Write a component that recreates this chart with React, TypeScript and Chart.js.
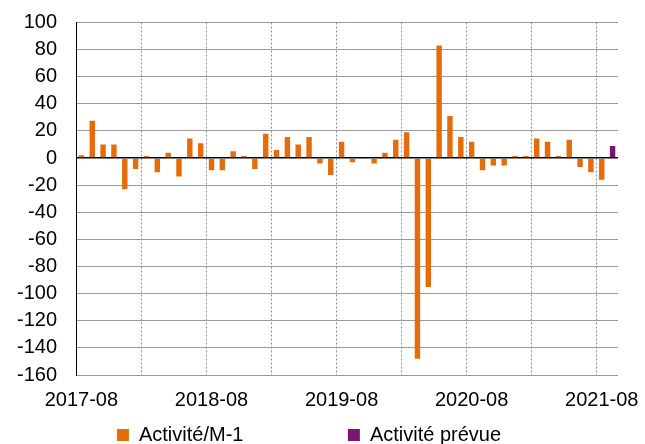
import React, { useEffect, useRef } from "react";
import { Chart, registerables } from "chart.js";

Chart.register(...registerables);

const months: string[] = [
  "2017-08","2017-09","2017-10","2017-11","2017-12","2018-01","2018-02","2018-03","2018-04","2018-05","2018-06","2018-07",
  "2018-08","2018-09","2018-10","2018-11","2018-12","2019-01","2019-02","2019-03","2019-04","2019-05","2019-06","2019-07",
  "2019-08","2019-09","2019-10","2019-11","2019-12","2020-01","2020-02","2020-03","2020-04","2020-05","2020-06","2020-07",
  "2020-08","2020-09","2020-10","2020-11","2020-12","2021-01","2021-02","2021-03","2021-04","2021-05","2021-06","2021-07",
  "2021-08","2021-09",
];

const tickLabels: string[] = ["2017-08", "2018-08", "2019-08", "2020-08", "2021-08"];

const activiteM1: (number | null)[] = [
  2, 27.5, 10, 10, -23, -8, 1.5, -10.5, 4, -13.5, 14.5, 11,
  -9, -9, 5, 1.5, -8, 18, 6, 15.5, 10, 15.5, -4, -12.5,
  12, -3, -0.5, -4, 4, 13.5, 19, -148, -95, 83, 31, 15.5,
  12, -9, -5.5, -5.5, 1.5, 1.5, 14.5, 12, 1.5, 13.5, -6.5, -10.5,
  -16, null,
];

const activitePrevue: (number | null)[] = [
  null, null, null, null, null, null, null, null, null, null, null, null,
  null, null, null, null, null, null, null, null, null, null, null, null,
  null, null, null, null, null, null, null, null, null, null, null, null,
  null, null, null, null, null, null, null, null, null, null, null, null,
  null, 9,
];

const seriesNames: string[] = ["Activité/M-1", "Activité prévue"];

const FONT = "'Liberation Sans', Arial, sans-serif";

export default function App() {
  const ref = useRef<HTMLCanvasElement | null>(null);

  useEffect(() => {
    if (!ref.current) return;
    const chart = new Chart(ref.current, {
      type: "bar",
      data: {
        labels: months,
        datasets: [
          {
            label: seriesNames[0],
            data: activiteM1,
            backgroundColor: "#E46C0A",
            borderWidth: 0,
          },
          {
            label: seriesNames[1],
            data: activitePrevue,
            backgroundColor: "#7A1572",
            borderWidth: 0,
          },
        ],
      },
      options: {
        responsive: false,
        animation: false,
        datasets: {
          bar: { grouped: false, categoryPercentage: 1, barPercentage: 0.5 },
        },
        layout: { padding: { left: 0, right: 27, top: 22.5, bottom: 0 } },
        plugins: {
          tooltip: { enabled: false },
          legend: {
            position: "bottom",
            labels: {
              boxWidth: 12,
              boxHeight: 12,
              padding: 10,
              color: "#000",
              font: { family: FONT, size: 20 },
              generateLabels: (c: any) => {
                const items = Chart.defaults.plugins.legend.labels.generateLabels(c);
                items.forEach((it: any, i: number) => {
                  if (i === 0) it.text = it.text + "\u0020".repeat(17);
                });
                return items;
              },
            },
          },
        },
        scales: {
          x: {
            offset: true,
            border: { display: false, dash: [2, 2] },
            grid: {
              offset: true,
              drawTicks: false,
              lineWidth: 1,
              color: (ctx: any) =>
                typeof ctx.index === "number" && ctx.index > 0 && ctx.index % 6 === 0 && ctx.index < months.length
                  ? "#8c8c8c"
                  : "rgba(0,0,0,0)",
            },
            ticks: {
              autoSkip: false,
              maxRotation: 0,
              minRotation: 0,
              padding: 13,
              color: "#000",
              font: { family: FONT, size: 20 },
              callback: (_v: any, i: number) =>
                tickLabels.includes(months[i]) ? months[i] : "",
            },
            afterFit: (scale: any) => {
              scale.height = 40;
            },
          },
          y: {
            min: -160,
            max: 100,
            border: { display: true, color: "#000", width: 1 },
            grid: {
              drawTicks: false,
              color: (ctx: any) => (ctx.tick && ctx.tick.value === 0 ? "#000" : "#999"),
              lineWidth: (ctx: any) => (ctx.tick && ctx.tick.value === 0 ? 1.6 : 1),
            },
            ticks: {
              stepSize: 20,
              autoSkip: false,
              padding: 19,
              color: "#000",
              font: { family: FONT, size: 20 },
            },
            afterFit: (scale: any) => {
              scale.width = 76;
              scale.paddingTop = 0;
              scale.paddingBottom = 0;
            },
          },
        },
      },
    });
    return () => chart.destroy();
  }, []);

  return (
    <div style={{ position: "fixed", left: 0, top: 0, width: 645, height: 444, overflow: "hidden", background: "#fff" }}>
      <canvas ref={ref} width={645} height={455} style={{ display: "block" }} />
    </div>
  );
}
